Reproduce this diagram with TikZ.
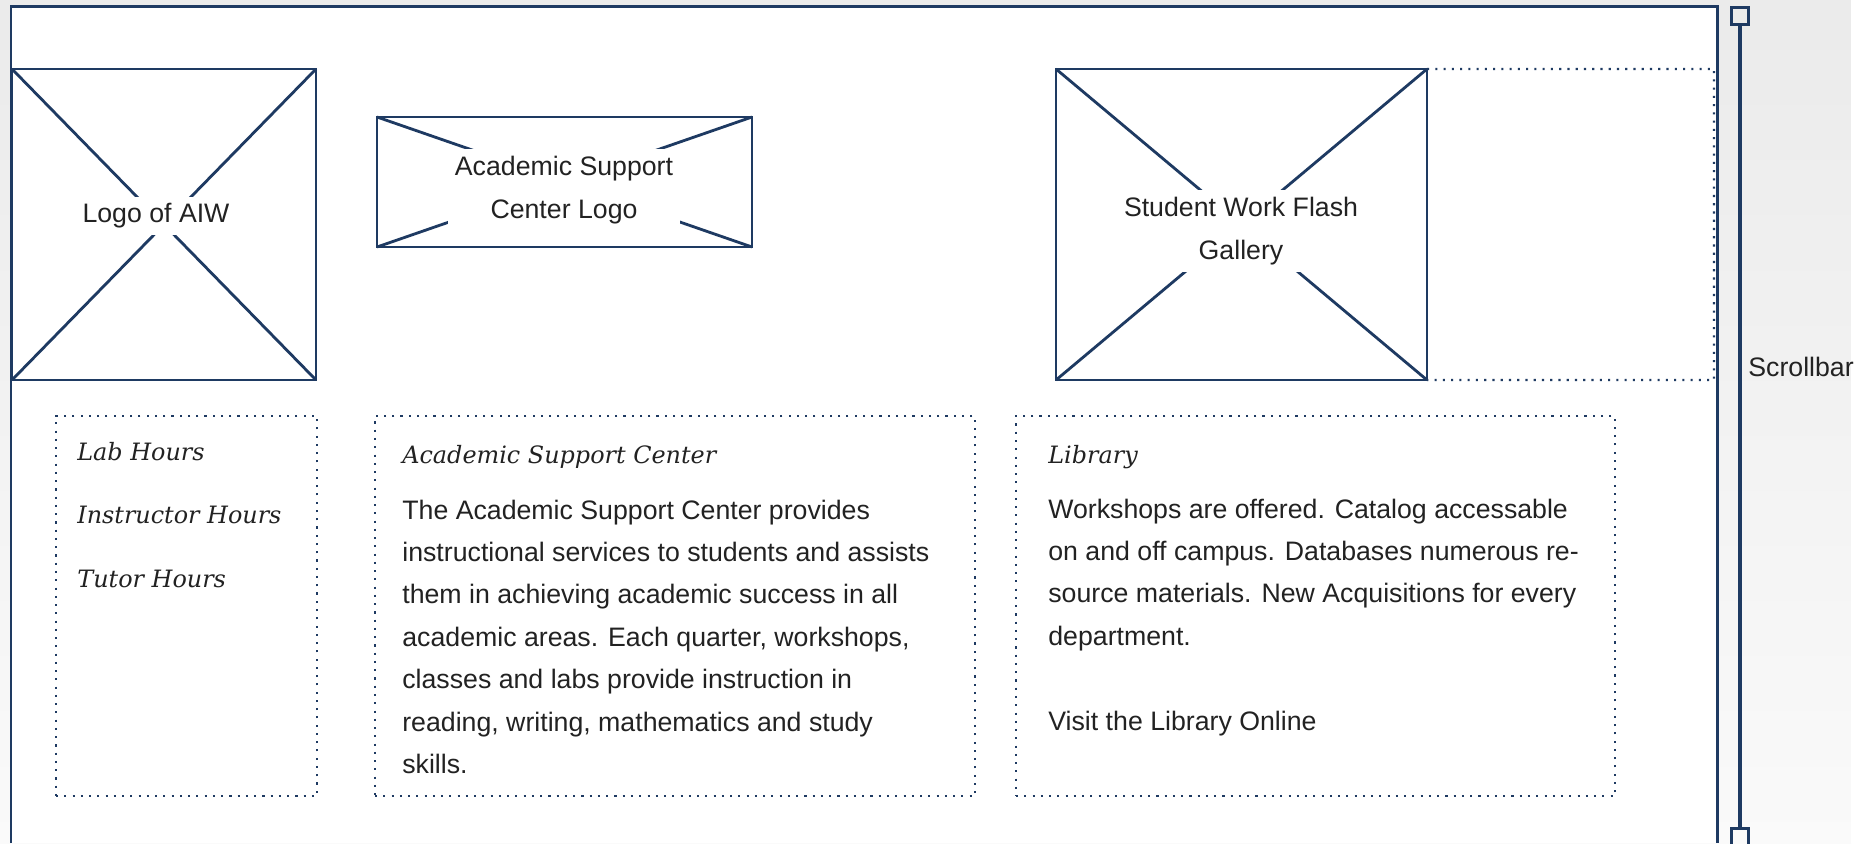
\documentclass[tikz,border=0pt]{standalone}
\usepackage{fontspec}
\setmainfont{Liberation Sans}
\newfontfamily\headfont{DejaVu Serif}
\usetikzlibrary{fit}
\definecolor{wire}{RGB}{30,58,98}
\definecolor{ink}{RGB}{34,34,34}
\begin{document}
\begin{tikzpicture}[x=0.02cm,y=-0.02cm,
  frame/.style={draw=wire,line width=1.7pt},
  imgbox/.style={draw=wire,line width=1.6pt,inner sep=0pt,outer sep=0pt},
  cross/.style={draw=wire,line width=1.6pt},
  label/.style={fill=white,inner sep=4pt,text=ink,align=center,font=\fontsize{15.2}{24.3}\selectfont},
  dotbox/.style={draw=wire,line width=1.2pt,dash pattern=on 1.2pt off 3.5pt,inner sep=0pt},
  body/.style={text=ink,align=left,anchor=base west,inner sep=0pt,font=\fontsize{15.2}{24.13}\selectfont},
  head/.style={text=ink,align=left,anchor=base west,inner sep=0pt,font=\headfont\itshape\fontsize{13.6}{36}\selectfont},
  handle/.style={draw=wire,line width=1.7pt,minimum size=9.7pt,inner sep=0pt},
  scroll/.style={draw=wire,line width=2.1pt}]
\useasboundingbox (0,0) rectangle (1869,843);
\shade[top color=black!8,bottom color=black!2] (0,0) rectangle (1851,843);
\fill[white] (1851,0) rectangle (1869,843);
\fill[white] (11,6) rectangle (1717,843);
\draw[frame] (11,843) -- (11,6) -- (1717,6) -- (1717,843);

\node[imgbox,fit={(12,69) (316,380)}] (aiwbox) {};
\draw[cross] (aiwbox.north west) -- (aiwbox.south east) (aiwbox.south west) -- (aiwbox.north east);
\node[label] (aiw) at (156,216) {Logo of AIW};

\node[imgbox,fit={(377,117) (752,247)}] (ascbox) {};
\draw[cross] (ascbox.north west) -- (ascbox.south east) (ascbox.south west) -- (ascbox.north east);
\node[label] (asclogo) at (564,190) {Academic Support\\Center Logo};

\node[imgbox,fit={(1056,69) (1427,380)}] (gallerybox) {};
\draw[cross] (gallerybox.north west) -- (gallerybox.south east) (gallerybox.south west) -- (gallerybox.north east);
\node[label] (gallery) at (1241,231) {Student Work Flash\\Gallery};
\draw[dotbox] (gallerybox.north east) -- (1714,69) -- (1714,380) -- (gallerybox.south east);

\node[dotbox,fit={(56,416) (317,796)}] (hoursbox) {};
\node[dotbox,fit={(375,416) (975,796)}] (centerbox) {};
\node[dotbox,fit={(1016,416) (1615,796)}] (librarybox) {};

\node[head] (hours) at (77,587) {Lab Hours\\Instructor Hours\\Tutor Hours};
\node[head] (centerhead) at (402,463) {Academic Support Center};
\node[body] (centertext) at (402,773.4) {The Academic Support Center provides\\
  instructional services to students and assists\\
  them in achieving academic success in all\\
  academic areas. Each quarter, workshops,\\
  classes and labs provide instruction in\\
  reading, writing, mathematics and study\\
  skills.};
\node[head] (libraryhead) at (1048,463) {Library};
\node[body] (librarytext) at (1048,730) {Workshops are offered. Catalog accessable\\
  on and off campus. Databases numerous re-\\
  source materials. New Acquisitions for every\\
  department.\\[24.13pt]
  Visit the Library Online};

\node[handle] (top) at (1740,16) {};
\node[handle] (bottom) at (1740,836.7) {};
\draw[scroll] (top) -- (bottom);
\node[body] (scrolllabel) at (1748,376) {Scrollbar};
\end{tikzpicture}
\end{document}
